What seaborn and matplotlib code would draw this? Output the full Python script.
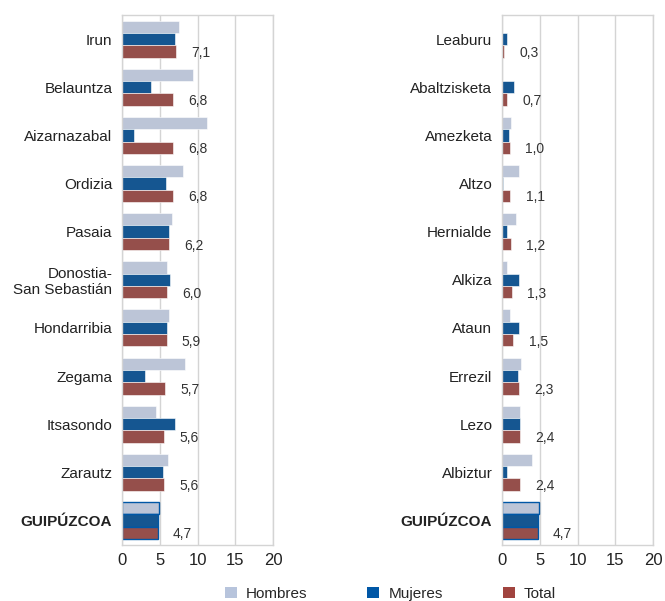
"""Paro por municipios: Hombres / Mujeres / Total, two horizontal bar panels."""

import matplotlib.pyplot as plt
import pandas as pd
import seaborn as sns
from matplotlib.patches import Patch

SERIES = ["Hombres", "Mujeres", "Total"]
COLORS = {"Hombres": "#B7C4DC", "Mujeres": "#0057A6", "Total": "#A1443F"}

left_names = ["Irun", "Belauntza", "Aizarnazabal", "Ordizia", "Pasaia",
              "Donostia-\nSan Sebastián", "Hondarribia", "Zegama", "Itsasondo",
              "Zarautz", "GUIPÚZCOA"]
left_hombres = [7.5, 9.4, 11.2, 8.1, 6.6, 6.0, 6.2, 8.4, 4.5, 6.1, 4.9]
left_mujeres = [7.0, 3.8, 1.6, 5.8, 6.2, 6.4, 5.9, 3.1, 7.0, 5.4, 4.7]
left_total = [7.1, 6.8, 6.8, 6.8, 6.2, 6.0, 5.9, 5.7, 5.6, 5.6, 4.7]

right_names = ["Leaburu", "Abaltzisketa", "Amezketa", "Altzo", "Hernialde",
               "Alkiza", "Ataun", "Errezil", "Lezo", "Albiztur", "GUIPÚZCOA"]
right_hombres = [0.05, 0.05, 1.2, 2.2, 1.8, 0.6, 1.0, 2.5, 2.4, 3.9, 4.9]
right_mujeres = [0.6, 1.6, 0.9, 0.1, 0.6, 2.2, 2.2, 2.1, 2.4, 0.7, 4.7]
right_total = [0.3, 0.7, 1.0, 1.1, 1.2, 1.3, 1.5, 2.3, 2.4, 2.4, 4.7]

X_TICKS = [0, 5, 10, 15, 20]


def _long_frame(names, hombres, mujeres, total):
    rows = []
    for serie, vals in zip(SERIES, (hombres, mujeres, total)):
        for n, v in zip(names, vals):
            rows.append({"municipio": n, "serie": serie, "valor": v})
    return pd.DataFrame(rows)


def draw_panel(ax, names, hombres, mujeres, total):
    df = _long_frame(names, hombres, mujeres, total)
    sns.barplot(
        data=df, y="municipio", x="valor", hue="serie", order=names,
        hue_order=SERIES, palette=COLORS, orient="h", width=0.77,
        edgecolor="white", linewidth=0.4, legend=False, ax=ax,
    )
    # highlight the provincial total
    for cont in ax.containers:
        cont.patches[-1].set_edgecolor("#0057A6")
        cont.patches[-1].set_linewidth(1.0)

    for i, v in enumerate(total):
        ax.annotate(
            f"{v:.1f}".replace(".", ","), (v, i + 0.26),
            textcoords="offset points", xytext=(11, -1),
            ha="left", va="center", fontsize=10, color="#333333",
        )

    ax.set_xlim(0, 20)
    ax.set_xticks(X_TICKS)
    ax.set_ylim(len(names) - 0.5, -0.5)
    ax.set_xlabel("")
    ax.set_ylabel("")
    ax.grid(True, axis="x", color="#D4D4D4", linewidth=1.0)
    ax.grid(False, axis="y")
    ax.set_axisbelow(True)
    for sp in ax.spines.values():
        sp.set_visible(True)
        sp.set_color("#D4D4D4")
        sp.set_linewidth(1.0)
    ax.tick_params(axis="both", length=0, colors="#222222")
    ax.tick_params(axis="x", labelsize=12, pad=6)
    ax.tick_params(axis="y", labelsize=11, pad=7)
    for lbl in ax.get_yticklabels():
        if lbl.get_text() == "GUIPÚZCOA":
            lbl.set_fontweight("bold")


sns.set_style("white")
plt.rcParams["font.family"] = ["Liberation Sans", "DejaVu Sans"]

fig = plt.figure(figsize=(6.65, 6.01), dpi=100)
ax_l = fig.add_axes([0.1835, 0.094, 0.227, 0.881])
ax_r = fig.add_axes([0.755, 0.094, 0.227, 0.881])

draw_panel(ax_l, left_names, left_hombres, left_mujeres, left_total)
draw_panel(ax_r, right_names, right_hombres, right_mujeres, right_total)

handles = [Patch(facecolor=COLORS[s], edgecolor="none", label=s) for s in SERIES]
fig.legend(
    handles=handles, loc="center", bbox_to_anchor=(0.587, 0.012), ncol=3,
    frameon=False, fontsize=11, handlelength=0.8, handleheight=0.8,
    handletextpad=0.6, columnspacing=3.9,
)

fig.savefig("out.png", dpi=100)
